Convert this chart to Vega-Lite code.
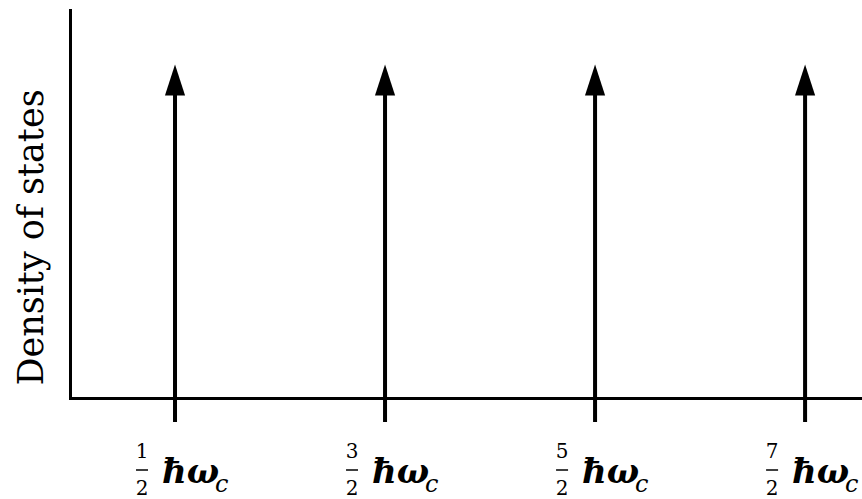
{
  "$schema": "https://vega.github.io/schema/vega-lite/v6.json",
  "width": 792,
  "height": 388,
  "autosize": {"type": "none"},
  "padding": {"left": 70, "top": 10, "right": 0, "bottom": 101},
  "background": "white",
  "config": {"view": {"stroke": null}},
  "data": {
    "values": [
      {"energy": 0.5, "numerator": "1", "denominator": "2"},
      {"energy": 1.5, "numerator": "3", "denominator": "2"},
      {"energy": 2.5, "numerator": "5", "denominator": "2"},
      {"energy": 3.5, "numerator": "7", "denominator": "2"}
    ]
  },
  "encoding": {
    "x": {
      "field": "energy",
      "type": "quantitative",
      "scale": {"domain": [0, 3.771], "nice": false, "zero": false},
      "axis": {
        "domain": true,
        "domainColor": "black",
        "domainWidth": 3,
        "domainCap": "square",
        "ticks": false,
        "labels": false,
        "grid": false,
        "title": null
      }
    }
  },
  "layer": [
    {
      "mark": {"type": "rule", "color": "black", "strokeWidth": 4, "clip": false},
      "encoding": {
        "y": {
          "datum": -0.062,
          "type": "quantitative",
          "scale": {"domain": [0, 1], "nice": false, "zero": false},
          "axis": {
            "domain": true,
            "domainColor": "black",
            "domainWidth": 3,
            "domainCap": "square",
            "ticks": false,
            "labels": false,
            "grid": false,
            "title": "Density of states",
            "titleFont": "DejaVu Serif",
            "titleFontSize": 35,
            "titleFontWeight": "normal",
            "titleColor": "black",
            "titleAngle": -90,
            "titleX": -28,
            "titleY": 227,
            "titleAlign": "center",
            "titleBaseline": "alphabetic"
          }
        },
        "y2": {"datum": 0.8}
      }
    },
    {
      "mark": {
        "type": "point",
        "shape": "M0,-1L-0.65,1L0.65,1Z",
        "size": 961,
        "filled": true,
        "color": "black",
        "opacity": 1,
        "clip": false
      },
      "encoding": {"y": {"datum": 0.8196, "type": "quantitative"}}
    },
    {
      "mark": {"type": "text", "font": "DejaVu Serif", "fontSize": 20, "color": "black", "align": "center", "baseline": "alphabetic", "dx": -33, "dy": 60},
      "encoding": {"y": {"datum": 0, "type": "quantitative"}, "text": {"field": "numerator"}}
    },
    {
      "mark": {"type": "rule", "color": "black", "strokeWidth": 1.5, "xOffset": -39, "x2Offset": -27, "yOffset": 72, "clip": false},
      "encoding": {"x2": {"field": "energy"}, "y": {"datum": 0, "type": "quantitative"}}
    },
    {
      "mark": {"type": "text", "font": "DejaVu Serif", "fontSize": 20, "color": "black", "align": "center", "baseline": "alphabetic", "dx": -33, "dy": 97},
      "encoding": {"y": {"datum": 0, "type": "quantitative"}, "text": {"field": "denominator"}}
    },
    {
      "mark": {"type": "text", "font": "DejaVu Serif", "fontSize": 34, "fontStyle": "italic", "fontWeight": "bold", "color": "black", "align": "left", "baseline": "alphabetic", "dx": -13, "dy": 85},
      "encoding": {"y": {"datum": 0, "type": "quantitative"}, "text": {"value": "ħω"}}
    },
    {
      "mark": {"type": "text", "font": "DejaVu Serif", "fontSize": 24, "fontStyle": "italic", "color": "black", "align": "left", "baseline": "alphabetic", "dx": 40, "dy": 94},
      "encoding": {"y": {"datum": 0, "type": "quantitative"}, "text": {"value": "c"}}
    }
  ]
}
